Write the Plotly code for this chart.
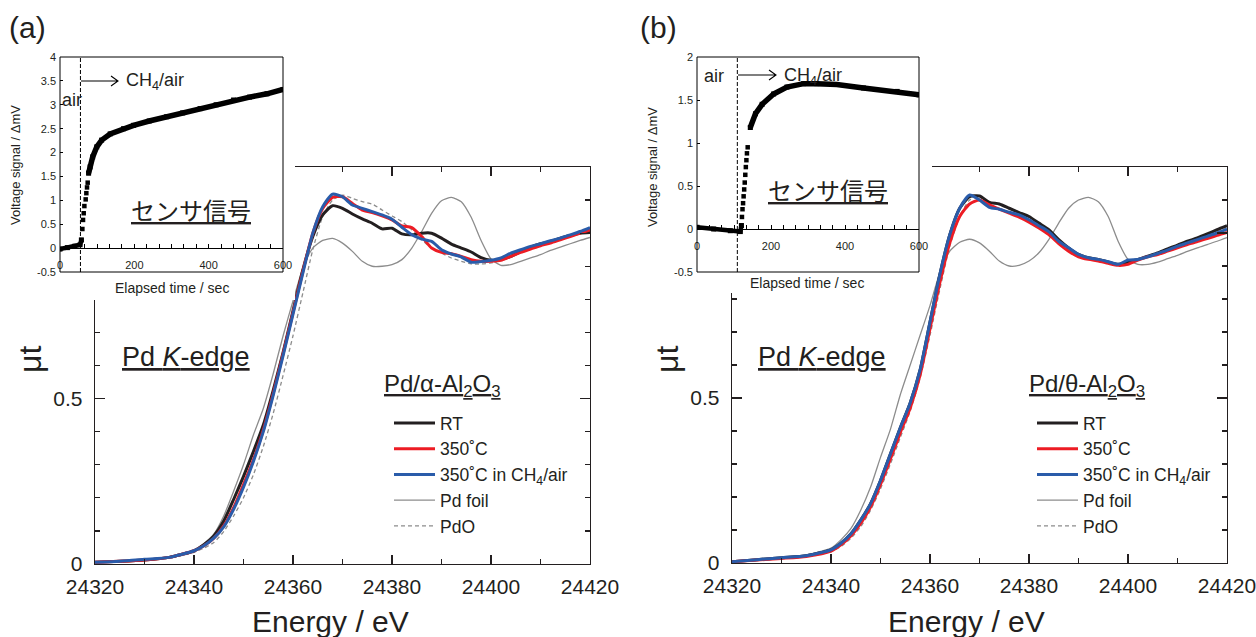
import plotly.graph_objects as go

# figure fills the whole 1256 x 637 page (body margin removed by post_script)
W, H, OFF = 1256, 637, 0
FONT = "Liberation Sans, Arial, sans-serif"
JFONT = "Noto Sans CJK JP"
TXT = "#231f20"
AX = "#231f20"

# ---------------- data ----------------
energy = [24320, 24325, 24330, 24335, 24340, 24342, 24344, 24346, 24348, 24350,
          24352, 24354, 24356, 24358, 24360, 24362, 24364, 24366, 24368, 24370,
          24372, 24374, 24376, 24378, 24380, 24382, 24384, 24386, 24388, 24390,
          24392, 24394, 24396, 24398, 24400, 24402, 24404, 24406, 24408, 24410,
          24412, 24414, 24416, 24418, 24420]

# panel (a) Pd/alpha-Al2O3
a_rt = [0.005, 0.008, 0.012, 0.020, 0.040, 0.058, 0.085, 0.130, 0.195, 0.265,
        0.340, 0.420, 0.525, 0.640, 0.765, 0.890, 0.990, 1.055, 1.083, 1.075,
        1.058, 1.043, 1.030, 1.013, 1.015, 0.998, 0.995, 1.000, 1.000, 0.985,
        0.967, 0.955, 0.943, 0.926, 0.918, 0.920, 0.930, 0.945, 0.958, 0.968,
        0.975, 0.985, 0.993, 1.000, 1.002]
a_350 = [0.005, 0.008, 0.012, 0.020, 0.040, 0.055, 0.078, 0.115, 0.170, 0.240,
         0.315, 0.405, 0.515, 0.635, 0.760, 0.885, 1.000, 1.075, 1.108, 1.110,
         1.090, 1.070, 1.062, 1.052, 1.040, 1.022, 1.017, 0.990, 0.955, 0.942,
         0.938, 0.930, 0.920, 0.915, 0.915, 0.918, 0.930, 0.942, 0.952, 0.962,
         0.970, 0.980, 0.990, 1.000, 1.010]
a_ch4 = [0.005, 0.008, 0.014, 0.020, 0.040, 0.055, 0.078, 0.112, 0.165, 0.232,
         0.310, 0.400, 0.510, 0.630, 0.755, 0.880, 1.000, 1.080, 1.118, 1.110,
         1.085, 1.075, 1.065, 1.055, 1.042, 1.018, 0.995, 0.982, 0.975, 0.950,
         0.937, 0.928, 0.912, 0.914, 0.918, 0.925, 0.940, 0.950, 0.960, 0.968,
         0.977, 0.985, 0.995, 1.005, 1.017]
a_foil = [0.005, 0.008, 0.012, 0.020, 0.042, 0.062, 0.090, 0.145, 0.220, 0.300,
          0.390, 0.470, 0.575, 0.690, 0.795, 0.895, 0.955, 0.978, 0.984, 0.970,
          0.945, 0.915, 0.900, 0.900, 0.905, 0.920, 0.955, 1.005, 1.060, 1.098,
          1.108, 1.095, 1.048, 0.978, 0.922, 0.903, 0.905, 0.915, 0.925, 0.935,
          0.948, 0.958, 0.968, 0.978, 0.987]
a_pdo = [0.004, 0.007, 0.011, 0.018, 0.035, 0.048, 0.065, 0.098, 0.145, 0.200,
         0.270, 0.355, 0.455, 0.570, 0.690, 0.820, 0.950, 1.050, 1.100, 1.115,
         1.105, 1.095, 1.088, 1.070, 1.052, 1.035, 1.010, 0.980, 0.955, 0.940,
         0.925, 0.915, 0.907, 0.907, 0.910, 0.918, 0.930, 0.940, 0.953, 0.963,
         0.972, 0.982, 0.992, 1.000, 1.010]

# panel (b) Pd/theta-Al2O3
b_rt = [0.004, 0.010, 0.016, 0.022, 0.040, 0.060, 0.088, 0.130, 0.180, 0.250,
        0.330, 0.410, 0.485, 0.585, 0.730, 0.875, 0.995, 1.075, 1.110, 1.112,
        1.093, 1.088, 1.075, 1.062, 1.050, 1.030, 1.010, 0.980, 0.955, 0.935,
        0.925, 0.920, 0.912, 0.905, 0.912, 0.920, 0.930, 0.940, 0.952, 0.963,
        0.975, 0.985, 0.997, 1.010, 1.022]
b_350 = [0.004, 0.009, 0.014, 0.020, 0.036, 0.055, 0.082, 0.120, 0.170, 0.238,
         0.315, 0.395, 0.470, 0.570, 0.710, 0.850, 0.970, 1.050, 1.088, 1.100,
         1.085, 1.072, 1.060, 1.048, 1.033, 1.015, 0.995, 0.968, 0.945, 0.928,
         0.920, 0.915, 0.908, 0.902, 0.905, 0.918, 0.928, 0.935, 0.945, 0.955,
         0.965, 0.974, 0.983, 0.993, 1.002]
b_ch4 = [0.004, 0.010, 0.016, 0.022, 0.040, 0.060, 0.088, 0.130, 0.180, 0.250,
         0.330, 0.410, 0.485, 0.585, 0.730, 0.875, 0.995, 1.075, 1.115, 1.100,
         1.078, 1.072, 1.063, 1.055, 1.040, 1.022, 1.004, 0.975, 0.955, 0.935,
         0.925, 0.920, 0.913, 0.905, 0.918, 0.920, 0.928, 0.938, 0.948, 0.960,
         0.970, 0.980, 0.990, 1.000, 1.012]
b_foil = [0.005, 0.010, 0.016, 0.024, 0.045, 0.070, 0.104, 0.160, 0.230, 0.320,
          0.405, 0.510, 0.600, 0.690, 0.780, 0.880, 0.945, 0.972, 0.981, 0.970,
          0.945, 0.915, 0.900, 0.902, 0.915, 0.940, 0.980, 1.030, 1.075, 1.100,
          1.108, 1.095, 1.050, 0.975, 0.920, 0.905, 0.905, 0.912, 0.922, 0.932,
          0.944, 0.955, 0.965, 0.975, 0.986]
b_pdo = [0.004, 0.008, 0.013, 0.019, 0.034, 0.050, 0.075, 0.110, 0.160, 0.225,
         0.300, 0.380, 0.460, 0.560, 0.690, 0.830, 0.960, 1.050, 1.100, 1.110,
         1.095, 1.087, 1.073, 1.060, 1.048, 1.028, 1.008, 0.980, 0.955, 0.935,
         0.925, 0.920, 0.912, 0.907, 0.910, 0.918, 0.928, 0.938, 0.950, 0.960,
         0.972, 0.982, 0.993, 1.005, 1.017]

series_names = ["RT", "350˚C", "350˚C in CH<sub>4</sub>/air", "Pd foil", "PdO"]
energy_ticks = [24320, 24340, 24360, 24380, 24400, 24420]

# inset sensor signals (time / s, voltage / mV)
ins_a_t = [0, 20, 40, 54, 57.5, 60.2, 62.0, 63.8, 65.6, 69.1, 70.9, 72.7, 74.5,
           77, 81, 88, 99, 112, 135, 171, 198, 240, 287, 330, 377, 420, 467, 510, 557, 600]
ins_a_v = [-0.02, 0.01, 0.04, 0.07, 0.17, 0.40, 0.59, 0.73, 0.88, 1.02, 1.15, 1.27, 1.37,
           1.57, 1.70, 1.91, 2.12, 2.26, 2.39, 2.50, 2.57, 2.66, 2.75, 2.83, 2.92, 3.00, 3.10, 3.16, 3.23, 3.32]
ins_a_jump = (4, 13)   # index range of sparse points during the switch
switch_a = 55

ins_b_t = [0, 45, 90, 117, 120, 121.5, 123, 124.5, 126, 127.5, 129, 130.5, 132, 133.5, 135, 137,
           144, 158, 176, 207, 243, 288, 324, 378, 450, 541, 600]
ins_b_v = [0.02, 0.0, -0.02, -0.03, 0.04, 0.14, 0.23, 0.30, 0.38, 0.46, 0.54, 0.63, 0.72, 0.80, 0.88, 0.95,
           1.18, 1.34, 1.45, 1.57, 1.65, 1.69, 1.69, 1.68, 1.64, 1.60, 1.56]
ins_b_jump = (4, 16)
switch_b = 109

ins_a_yticks = [4, 3.5, 3, 2.5, 2, 1.5, 1, 0.5, 0, -0.5]
ins_b_yticks = [2, 1.5, 1, 0.5, 0, -0.5]
ins_xticks = [0, 200, 400, 600]

# ---------------- helpers: page pixel -> paper fraction ----------------
def fx(p):
    return (p - OFF) / W

def fy(p):
    return 1 - (p - OFF) / H

COL = {"RT": "#231f20", "350": "#ed1c24", "CH4": "#2a5caa", "foil": "#8c8c8c", "pdo": "#8c8c8c"}

fig = go.Figure()

def add_panel(xa, ya, leg, rt, c350, ch4, foil, pdo):
    common = dict(x=energy, xaxis=xa, yaxis=ya, mode="lines", legend=leg, hoverinfo="skip")
    fig.add_trace(go.Scatter(y=foil, name=series_names[3], legendrank=4,
                             line=dict(color=COL["foil"], width=1.3, shape="spline", smoothing=0.6), **common))
    fig.add_trace(go.Scatter(y=pdo, name=series_names[4], legendrank=5,
                             line=dict(color=COL["pdo"], width=1.3, dash="4px,3px", shape="spline", smoothing=0.6), **common))
    fig.add_trace(go.Scatter(y=rt, name=series_names[0], legendrank=1,
                             line=dict(color=COL["RT"], width=3, shape="spline", smoothing=0.6), **common))
    fig.add_trace(go.Scatter(y=c350, name=series_names[1], legendrank=2,
                             line=dict(color=COL["350"], width=3, shape="spline", smoothing=0.6), **common))
    fig.add_trace(go.Scatter(y=ch4, name=series_names[2], legendrank=3,
                             line=dict(color=COL["CH4"], width=3, shape="spline", smoothing=0.6), **common))

add_panel("x", "y", "legend", a_rt, a_350, a_ch4, a_foil, a_pdo)
add_panel("x2", "y2", "legend2", b_rt, b_350, b_ch4, b_foil, b_pdo)

# cover subplots (white backgrounds that hide the main frame under the insets)
for xa, ya in (("x3", "y3"), ("x4", "y4")):
    fig.add_trace(go.Scatter(x=[None], y=[None], xaxis=xa, yaxis=ya, showlegend=False, hoverinfo="skip"))

def add_inset(xa, ya, t, v, jump):
    j0, j1 = jump
    fig.add_trace(go.Scatter(x=t[:j0 + 1], y=v[:j0 + 1], xaxis=xa, yaxis=ya, mode="lines+markers",
                             line=dict(color="black", width=4.5), marker=dict(symbol="square", size=5, color="black"),
                             showlegend=False, hoverinfo="skip"))
    fig.add_trace(go.Scatter(x=t[j0:j1 + 1], y=v[j0:j1 + 1], xaxis=xa, yaxis=ya, mode="markers",
                             marker=dict(symbol="square", size=4.5, color="black"),
                             showlegend=False, hoverinfo="skip"))
    fig.add_trace(go.Scatter(x=t[j1:], y=v[j1:], xaxis=xa, yaxis=ya, mode="lines+markers",
                             line=dict(color="black", width=5.5), marker=dict(symbol="square", size=5, color="black"),
                             showlegend=False, hoverinfo="skip"))

add_inset("x5", "y5", ins_a_t, ins_a_v, ins_a_jump)
add_inset("x6", "y6", ins_b_t, ins_b_v, ins_b_jump)

# ---------------- axes ----------------
def main_x(x0, x1, anchor):
    return dict(domain=[fx(x0), fx(x1)], anchor=anchor, range=[24320, 24420],
                tickvals=energy_ticks, ticktext=[str(v) for v in energy_ticks],
                ticks="inside", ticklen=9, tickwidth=1.3, tickcolor=AX, showline=True, linecolor=AX,
                linewidth=1.3, mirror="ticks", showgrid=False, zeroline=False, automargin=False,
                ticklabeloverflow="allow",
                minor=dict(dtick=10, tick0=24320, ticks="inside", ticklen=5, tickwidth=1.2, tickcolor=AX, showgrid=False),
                tickfont=dict(family=FONT, size=21, color=TXT), ticklabelstandoff=3, fixedrange=True)

def main_y(y0, y1, anchor):
    return dict(domain=[fy(y1), fy(y0)], anchor=anchor, range=[0, 1.2], tick0=0, dtick=0.5,
                ticks="inside", ticklen=10, tickwidth=1.3, tickcolor=AX, showline=True, linecolor=AX,
                linewidth=1.3, mirror="ticks", showgrid=False, zeroline=False, automargin=False,
                ticklabeloverflow="allow",
                minor=dict(dtick=0.1, ticks="inside", ticklen=5, tickwidth=1.2, tickcolor=AX, showgrid=False),
                tickfont=dict(family=FONT, size=21, color=TXT), ticklabelstandoff=7, fixedrange=True)

def cover(x0, x1, y0, y1, anchor):
    return (dict(domain=[fx(x0), fx(x1)], anchor="y" + anchor, range=[0, 1], visible=False,
                 automargin=False, fixedrange=True),
            dict(domain=[fy(y1), fy(y0)], anchor="x" + anchor, range=[0, 1], visible=False,
                 automargin=False, fixedrange=True))

def inset_axes(x0, x1, y0, y1, yr, yticks, anchor_num):
    ydom = [fy(y1), fy(y0)]
    zero_pos = ydom[0] + (0 - yr[0]) / (yr[1] - yr[0]) * (ydom[1] - ydom[0])
    xa = dict(domain=[fx(x0), fx(x1)], anchor="free", position=zero_pos, range=[0, 600],
              tickvals=ins_xticks, ticktext=[str(v) for v in ins_xticks],
              ticks="inside", ticklen=4, tickwidth=1, tickcolor="black", showline=True, linecolor="black",
              linewidth=1, showgrid=False, zeroline=False, automargin=False,
              minor=dict(dtick=100 / 3, tick0=0, ticks="inside", ticklen=4, tickwidth=1, tickcolor="black", showgrid=False),
              tickfont=dict(family=FONT, size=11, color=TXT), ticklabelstandoff=7, fixedrange=True)
    ya = dict(domain=ydom, anchor="x" + anchor_num, range=yr, tickvals=yticks,
              ticktext=[("%g" % v) for v in yticks], ticks="inside", ticklen=3, tickwidth=1,
              tickcolor="black", showline=False, showgrid=False, zeroline=False, automargin=False,
              tickfont=dict(family=FONT, size=11, color=TXT), ticklabelstandoff=3, fixedrange=True)
    return xa, ya

c3x, c3y = cover(0, 295, 0, 300, "3")
c4x, c4y = cover(633, 932, 0, 293, "4")
i5x, i5y = inset_axes(60, 283, 57, 272, [-0.5, 4], ins_a_yticks, "5")
i6x, i6y = inset_axes(697, 919, 57, 272, [-0.5, 2], ins_b_yticks, "6")

# ---------------- shapes ----------------
shapes = []
for n in ("5", "6"):
    shapes.append(dict(type="rect", xref="x%s domain" % n, yref="y%s domain" % n, x0=0, x1=1, y0=0, y1=1,
                       line=dict(color="black", width=1), layer="above"))
for n, ts in (("5", switch_a), ("6", switch_b)):
    shapes.append(dict(type="line", xref="x" + n, yref="y%s domain" % n, x0=ts, x1=ts, y0=0, y1=1,
                       line=dict(color="black", width=1, dash="4px,2px"), layer="above"))

def arrow_path(x0, x1, y):
    return ("M%.5f,%.5f L%.5f,%.5f M%.5f,%.5f L%.5f,%.5f L%.5f,%.5f" %
            (fx(x0), fy(y), fx(x1), fy(y), fx(x1 - 7), fy(y - 5), fx(x1), fy(y), fx(x1 - 7), fy(y + 5)))

for (x0, x1, y) in ((81, 118, 81), (738, 776, 75)):
    shapes.append(dict(type="path", xref="paper", yref="paper", path=arrow_path(x0, x1, y),
                       line=dict(color="black", width=1.1), layer="above"))

# ---------------- annotations ----------------
ann = []

def text(s, x, y, size, xanchor="center", angle=0, family=FONT):
    ann.append(dict(text=s, x=fx(x), y=fy(y), xref="paper", yref="paper", showarrow=False,
                    xanchor=xanchor, yanchor="middle", textangle=angle,
                    font=dict(family=family, size=size, color=TXT)))

text("(a)", 28, 28, 30)
text("(b)", 658, 28, 30)
text("μt", 30, 360, 32, angle=-90)
text("μt", 667, 360, 32, angle=-90)
text("<u>Pd <i>K</i>-edge</u>", 186, 357, 27)
text("<u>Pd <i>K</i>-edge</u>", 822, 357, 27)
text("Energy / eV", 330, 621, 30)
text("Energy / eV", 966, 621, 30)
text("<u>Pd/α-Al<sub>2</sub>O<sub>3</sub></u>", 442, 385, 24)
text("<u>Pd/θ-Al<sub>2</sub>O<sub>3</sub></u>", 1087, 385, 24)
text("<u>センサ信号</u>", 191, 210, 24, family=JFONT)
text("<u>センサ信号</u>", 828, 190, 24, family=JFONT)
text("Elapsed time / sec", 172, 288, 14)
text("Elapsed time / sec", 807, 283, 14)
text("Voltage signal / ΔmV", 15, 165, 13, angle=-90)
text("Voltage signal / ΔmV", 652, 167, 13, angle=-90)
text("air", 72, 100, 18)
text("air", 714, 76, 18)
text("CH<sub>4</sub>/air", 124, 81, 18, xanchor="left")
text("CH<sub>4</sub>/air", 782, 76, 18, xanchor="left")

legend_style = dict(font=dict(family=FONT, size=17.5, color=TXT), bgcolor="rgba(0,0,0,0)",
                    borderwidth=0, xanchor="left", yanchor="top", itemwidth=41,
                    traceorder="normal", tracegroupgap=0)

fig.update_layout(
    width=W, height=H, margin=dict(l=0, r=0, t=0, b=0, autoexpand=False),
    paper_bgcolor="white", plot_bgcolor="white",
    showlegend=True,
    legend=dict(x=fx(389), y=fy(405), **legend_style),
    legend2=dict(x=fx(1032), y=fy(405), **legend_style),
    xaxis=main_x(95, 590, "y"), yaxis=main_y(167, 564, "x"),
    xaxis2=main_x(732, 1227, "y2"), yaxis2=main_y(167, 563, "x2"),
    xaxis3=c3x, yaxis3=c3y, xaxis4=c4x, yaxis4=c4y,
    xaxis5=i5x, yaxis5=i5y, xaxis6=i6x, yaxis6=i6y,
    shapes=shapes, annotations=ann, hovermode=False,
)

fig.write_html("out.html", config={"displayModeBar": False, "staticPlot": True},
               post_script="document.body.style.margin='0';document.body.style.overflow='hidden';")
